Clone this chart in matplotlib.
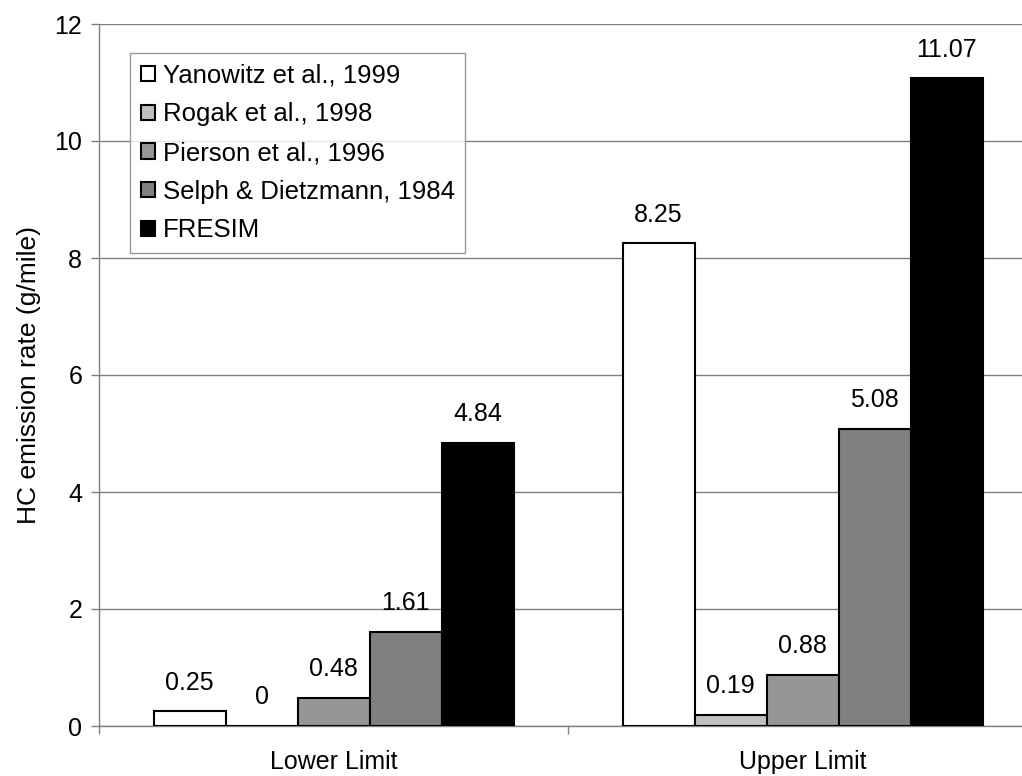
import matplotlib
matplotlib.use("Agg")
import matplotlib.pyplot as plt
import numpy as np

plt.rcParams['font.family'] = ['Liberation Sans', 'DejaVu Sans']

categories = ["Lower Limit", "Upper Limit"]
series_names = ["Yanowitz et al., 1999", "Rogak et al., 1998", "Pierson et al., 1996",
                "Selph & Dietzmann, 1984", "FRESIM"]
yanowitz = [0.25, 8.25]
rogak = [0.0, 0.19]
pierson = [0.48, 0.88]
selph = [1.61, 5.08]
fresim = [4.84, 11.07]
label_text = [["0.25", "8.25"], ["0", "0.19"], ["0.48", "0.88"], ["1.61", "5.08"], ["4.84", "11.07"]]
colors = ["#FFFFFF", "#C0C0C0", "#969696", "#808080", "#000000"]
yticks = [0, 2, 4, 6, 8, 10, 12]

series = [yanowitz, rogak, pierson, selph, fresim]

FS = 18

fig = plt.figure(figsize=(10.22, 7.76), dpi=100)
ax = fig.add_axes([99/1022, 50/776, 938/1022, 702/776])

x = np.arange(len(categories))
w = 72/469
for i, (vals, col) in enumerate(zip(series, colors)):
    pos = x + (i - 2) * w
    bars = ax.bar(pos, vals, width=w, color=col, edgecolor="black", linewidth=1.5,
                  label=series_names[i], zorder=3)
    for b, v, t in zip(bars, vals, label_text[i]):
        ax.annotate(t, (b.get_x() + b.get_width()/2, v), xytext=(0, 12),
                    textcoords="offset points", ha="center", va="bottom", fontsize=FS)

ax.set_xlim(-0.5, 1.5)
ax.set_ylim(0, 12)
ax.set_yticks(yticks)
ax.yaxis.grid(True, color="#808080", linewidth=1.0, zorder=0)
ax.set_axisbelow(True)
ax.set_xticks(x)
ax.set_xticklabels(categories, fontsize=FS)
ax.set_xticks([-0.5, 0.5, 1.5], minor=True)
ax.tick_params(axis="x", which="major", length=0, pad=17)
ax.tick_params(axis="x", which="minor", length=6, color="#808080", width=1)
ax.tick_params(axis="y", length=6, color="#808080", width=1, labelsize=FS, pad=6)
for s in ["top", "right"]:
    ax.spines[s].set_visible(False)
for s in ["left", "bottom"]:
    ax.spines[s].set_color("#808080")
    ax.spines[s].set_linewidth(1.0)
ax.set_ylabel("HC emission rate (g/mile)", fontsize=19, labelpad=10)

leg = ax.legend(loc="upper left", fontsize=18.5, frameon=True, fancybox=False,
                borderpad=0.42, labelspacing=0.57,
                handlelength=0.55, handleheight=0.55, handletextpad=0.3, borderaxespad=0)
leg.get_frame().set_edgecolor("#808080")
leg.get_frame().set_linewidth(1.0)
leg.set_bbox_to_anchor((130/1022, 1 - 53/776), transform=fig.transFigure)

fig.savefig("out.png", dpi=100)
